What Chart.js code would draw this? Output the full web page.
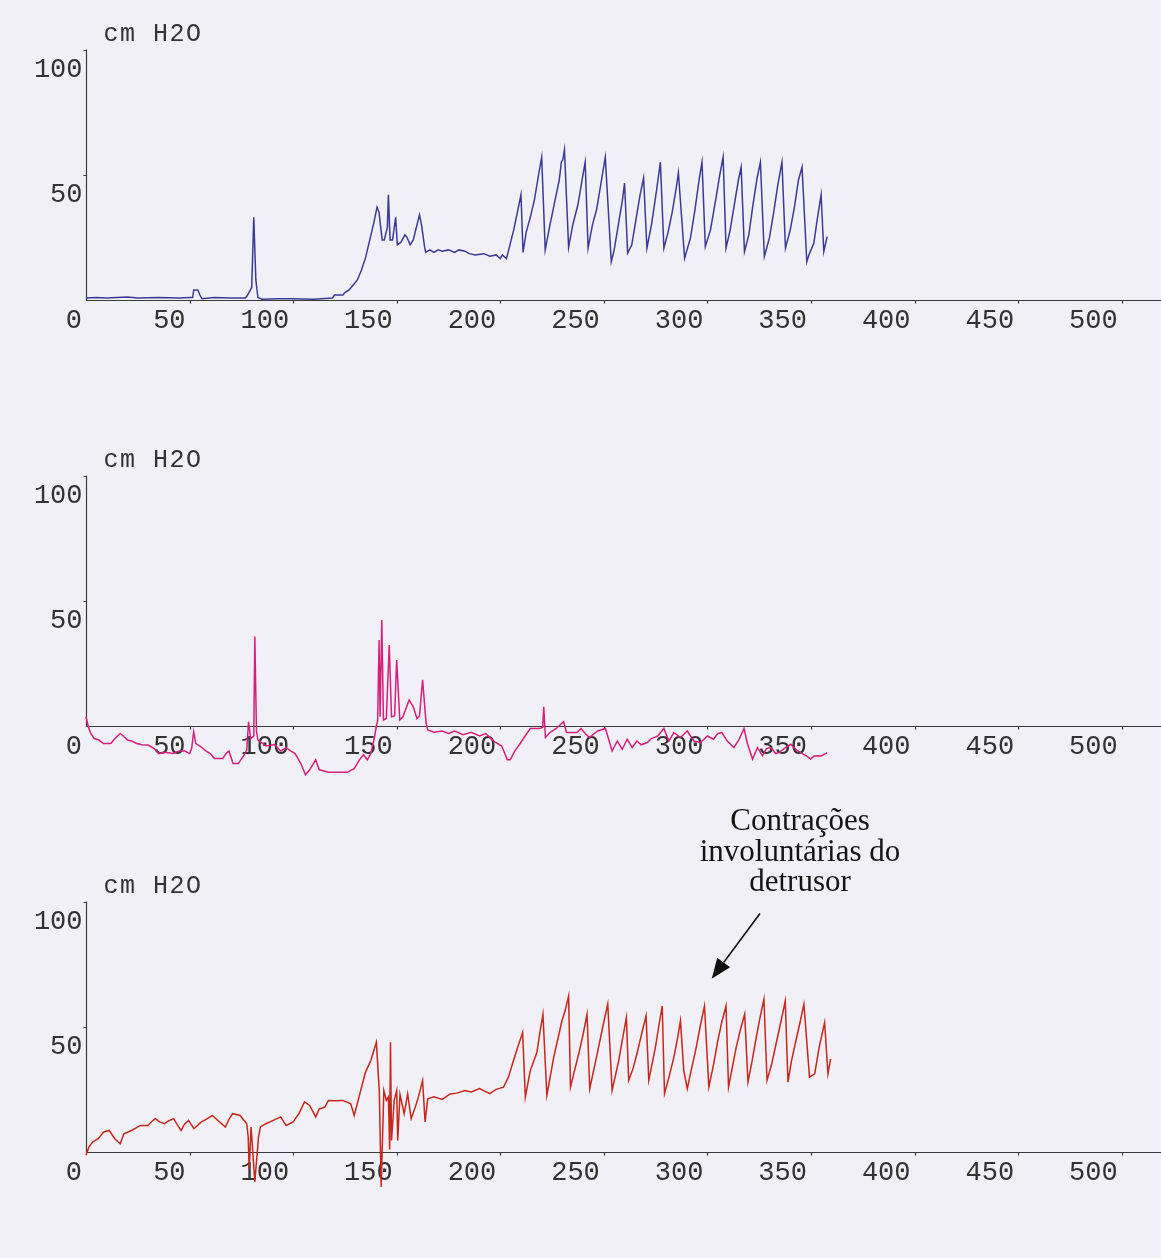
<!DOCTYPE html>
<html><head><meta charset="utf-8">
<script src="https://cdn.jsdelivr.net/npm/chart.js@4.4.1/dist/chart.umd.min.js"></script>
<style>
html,body{margin:0;padding:0;background:#f1f0f6;}
body{width:1161px;height:1258px;position:relative;overflow:hidden;}
canvas{position:absolute;left:0;}
#note{position:absolute;left:640px;width:320px;top:805px;text-align:center;font-family:"Liberation Serif","Times New Roman",serif;font-size:31px;line-height:30.5px;color:#141414;}
</style></head><body>
<canvas id="c1" width="1161" height="426" style="top:0"></canvas>
<canvas id="c2" width="1161" height="426" style="top:426px"></canvas>
<canvas id="c3" width="1161" height="426" style="top:852px"></canvas>
<div id="note">Contrações<br>involuntárias do<br>detrusor</div>
<script>
// ---- tick labels ----
const xTicks = [0, 50, 100, 150, 200, 250, 300, 350, 400, 450, 500];
const xTickLabels = ['0', '50', '100', '150', '200', '250', '300', '350', '400', '450', '500'];
const yTicks = [0, 50, 100];
const yTickLabels = ['0', '50', '100'];
const unitLabel = 'cm H2O';

// ---- panel 1 (blue) ----
const p1x = [0,5,10,15,20,25,35,45,50,51.5,52,54,55,56,62,70,77,78,80,81,82,83,85,92,100,110,119,120,124,125,127,129,131,133,135,137,139,140.5,141.5,142,143,144,145.5,146,146.8,148,149.5,150.3,152,154,155,156.5,158,161,162,163.5,164,166,168,170,172,175,178,180,183,185,188,192,195,198,200,201,203,
 206.5,208.5,210,211,212.5,214.5,216.5,218.5,220,221.7,224,226,228.5,229.5,230.2,231,233,235,237.5,239.5,241,242.4,244.5,246.5,248.5,250.7,253.6,255,257,259,260,261.5,263.5,265.5,267.5,269.2,270.8,273,275.5,277.3,279,281,283,285,286,289,291.8,294,296,297.4,299,301.5,304,306,307.6,309,311,313,315,316.3,317.9,320,322,324,325.6,327.5,330,332,334,336,337.7,340,342,344,345.7,348,349,351.4,353,354.9,356.2,357.8];
const p1y = [0.8,1,0.8,1,1.2,0.8,1,0.8,1,1,4,4,2,0.5,1,0.8,0.8,2,5,33,8,1,0.3,0.5,0.5,0.3,0.8,2,2,3,4,6,8,12,17,24,31,37,35,31,24,24,29,42,24,24,33,22,23,26,25,22,24,34,30,21,19,20,19,20,19.5,20,19,20,19.5,18.5,18,18.5,17.5,18,16.5,18,16.5,
 28,36,42,19,27,33,40,50,57,20,30,38,48,55,56,60,21,30,38,48,55,20.7,30,36,46,57,15.3,20,30,40,46.7,18.7,22,32,42,48.7,20.7,30,44,55,20.7,27,35,45,50.7,16.7,24.7,36,48,55,21.3,28,40,50,57,20.7,28,38,48,53,19.3,26,38,48.7,55,17.3,25,35,46,55,20.7,28,37,48,53,15.3,18,22.7,32,42,19.3,25.3];

// ---- panel 2 (magenta) ----
const p2x = [0,1,2.3,4,6,8.5,12,14,16.5,18,20,22,24.5,27,30,33,35,38,42,45,47.7,50,51,52,53,55,58,60,62,66,67.6,69,71,73.5,76,77.6,78.5,79.5,81,81.5,82.3,83,87,91,94,96.6,99,101,103.7,106,108,110.9,112.6,115,117,122,126,129.5,132,134,135.8,137.5,139,140.2,140.8,141.5,142,142.8,143.6,145,146.4,147.5,149,150,151.5,153,156,157,158,159.8,161,162.5,164.2,165,168,172,175,178,182,186,190,193,196.8,200.7,203.4,204.8,207,209.7,212,214.5,216,219,220.5,221,221.8,224,227,230.6,232,237,239,241,243,247,250.8,254,256.5,258.9,261.3,263.7,266,268,271,273,276,279,281.4,283.8,287,290.3,293.5,296.7,300,303,305,307,309.6,312.8,315.3,317.7,319.3,321.8,324.2,326.6,328.5,330.6,333,334.6,337,340.3,343,345,348,349.8,351.5,353,355,357.8];
const p2y = [3.7,0,-3,-5,-5.5,-7,-7,-5,-3,-4,-5.6,-6,-7,-7.5,-7.6,-9,-11,-10.5,-11,-10,-10,-11,-9,-2.3,-7,-8,-10,-11,-13,-13,-11,-10,-15,-15,-12,-9.6,1.7,-5,-4,35.7,-2,-5.6,-8,-7.4,-10,-8.6,-10,-11,-15,-19.5,-17.5,-13.5,-17.5,-18,-18.5,-18.5,-18.5,-17,-13.5,-11.5,-13.5,-11,-5.6,0,2,34.3,3.7,42.3,2.4,3,32.3,3.7,4,26.3,2.4,3.7,10.4,9,7.7,3,4,18.4,1,-1.6,-2.5,-2,-3,-2,-3.5,-2.5,-4,-3,-6,-8,-13.5,-13.5,-10,-6.9,-4,-1,-1,-1,-0.5,7.7,-4.6,-2.6,-1,1.7,-2.6,-2.6,-1,-3,-4.6,-2,-1,-10,-6,-9.3,-5.3,-8.6,-6,-7.5,-6.6,-5,-4,-1,-6,-2.6,-4.6,-2,-6,-6.6,-4,-5.3,-3,-2.6,-6,-8.6,-5.3,-1,-7,-13.2,-8.6,-11.9,-9,-8.6,-11,-10.6,-9,-7.3,-9.5,-10.6,-12,-13.2,-12,-11.9,-12,-10.6];

// ---- panel 3 (red) ----
const p3x = [0,1.4,3.2,5.9,8.5,11.2,13.9,16.5,18.3,21.9,24,26.3,29.9,31.5,33.5,35.5,37.9,40,42.3,44,45.9,47.5,49.5,52.1,55.7,58,61,63.7,67.3,69,70.8,74.4,77.6,78.3,78.8,79.7,81.5,83.3,84.2,86.8,90.4,94,96.6,100,102.8,105.5,108,110.9,112.6,115.3,117,120,124,127.8,129.5,132.2,134.9,137.5,140.2,141.1,141.6,142.5,143.8,145,146,146.6,147,147.5,148.8,150,150.5,151.6,153.6,155.3,157,159,160.5,162.5,163.7,165,168,172,175.8,179,183,186,190,195,198,201.6,
 204,206.4,208.5,210.8,212.1,214.5,217.7,219,220.6,222.5,225.8,229.8,231.5,233,233.9,236,237.9,240,241.9,243.2,246.8,249.5,251.9,254,257.2,259,260.9,262,264,266,268.5,270.4,271.7,274.9,276.5,278.2,279.3,281.5,283.8,285.5,287,288.6,290.3,292,294.3,296.5,298.6,300.7,303,305,307,309,310.2,313.9,316,318,319.6,321.5,323.6,325.5,327.3,328.8,331,333.3,335.5,337.6,338.9,340.5,342.9,344.8,346.6,349.3,351.8,354,356.6,358.2,359.5];
const p3y = [-1.3,2,4,5.3,8,8.6,5.3,3.3,7.3,8.6,9.5,10.6,10.6,12,13.3,12,11.3,12.5,13.3,11,8.6,11,12.6,9.3,12,13,14.6,12.6,10,13,15.3,14.6,11.3,6,-7,10,-12,6,10,11.3,12.6,14,10.6,12,15.3,20,18.6,14,17.2,17.9,20.6,20.5,20.6,19.2,14.6,23.2,31.8,36.5,43.8,31,24.5,-14,24.5,20.6,22,1,43.8,4.6,20.6,24.5,4.6,23,15.3,23.2,13.3,18,22,28.5,12,21.2,22,21,23.2,23.5,24.5,24,25.3,23.3,25,25.9,
 30,36.5,42,47.7,21.9,32.5,39.8,47,55,22.6,37.8,52.4,57,62.3,25.9,33,39.2,47,55,25.3,39.2,50,59,24.6,36.5,45,53.7,28.6,33,39.2,48,54.4,28.6,41.8,50,58.3,23.3,30,37.8,45,52.4,32.5,25.3,32,40.5,50,58.3,25.9,35,44.4,52,58.3,25.9,41.8,49,55,27.9,36,45.8,54,61,28.6,35,43.7,52,60.3,27.9,36,45,52,59,29.9,31.2,42,51.7,31.2,37.2];

// annotation arrow (data coordinates of panel 3)
const arrowTail = {x: 325.4, y: 95.2};
const arrowTip = {x: 302.1, y: 69.2};

const X_MIN = 0, X_MAX = 519, Y_MIN = -40, Y_MAX = 100;
const axisColor = '#3a3a3a';
const textColor = '#333333';

const axesPlugin = {
  id: 'paperAxes',
  beforeDatasetsDraw(chart) {
    const {ctx, chartArea} = chart;
    const xs = chart.scales.x, ys = chart.scales.y;
    const x0 = Math.round(xs.getPixelForValue(0)) + 0.5;
    const y0 = Math.round(ys.getPixelForValue(0)) + 0.5;
    const yTop = ys.getPixelForValue(Y_MAX);
    ctx.save();
    ctx.strokeStyle = axisColor;
    ctx.lineWidth = 1.2;
    ctx.beginPath();
    ctx.moveTo(x0, yTop);
    ctx.lineTo(x0, y0);
    ctx.lineTo(chartArea.right, y0);
    xTicks.forEach(v => { if (v === 0) return; const px = Math.round(xs.getPixelForValue(v)) + 0.5; ctx.moveTo(px, y0); ctx.lineTo(px, y0 + 3); });
    yTicks.forEach(v => { if (v === 0) return; const py = Math.round(ys.getPixelForValue(v)) + 0.5; ctx.moveTo(x0, py); ctx.lineTo(x0 - 3, py); });
    ctx.stroke();
    ctx.fillStyle = textColor;
    ctx.font = '27px "Liberation Mono"';
    ctx.textAlign = 'right';
    ctx.textBaseline = 'alphabetic';
    xTicks.forEach((v, i) => ctx.fillText(xTickLabels[i], xs.getPixelForValue(v) - 4, y0 + 27));
    yTicks.forEach((v, i) => { if (v === 0) return; ctx.fillText(yTickLabels[i], x0 - 4, ys.getPixelForValue(v) + 27); });
    ctx.font = '25px "Liberation Mono"';
    try { ctx.letterSpacing = '1.5px'; } catch (e) {}
    ctx.textAlign = 'left';
    ctx.fillText(unitLabel, x0 + 17, 41);
    ctx.restore();
  }
};

const arrowPlugin = {
  id: 'arrowNote',
  afterDatasetsDraw(chart) {
    const {ctx} = chart;
    const xs = chart.scales.x, ys = chart.scales.y;
    const tx = xs.getPixelForValue(arrowTail.x), ty = ys.getPixelForValue(arrowTail.y);
    const hx = xs.getPixelForValue(arrowTip.x), hy = ys.getPixelForValue(arrowTip.y);
    const ang = Math.atan2(hy - ty, hx - tx);
    const L = 20, W = 8;
    const bx = hx - L * Math.cos(ang), by = hy - L * Math.sin(ang);
    ctx.save();
    ctx.strokeStyle = '#111'; ctx.fillStyle = '#111'; ctx.lineWidth = 1.6;
    ctx.beginPath(); ctx.moveTo(tx, ty); ctx.lineTo(bx, by); ctx.stroke();
    ctx.beginPath();
    ctx.moveTo(hx, hy);
    ctx.lineTo(bx + W * Math.sin(ang), by - W * Math.cos(ang));
    ctx.lineTo(bx - W * Math.sin(ang), by + W * Math.cos(ang));
    ctx.closePath(); ctx.fill();
    ctx.restore();
  }
};

function makeChart(id, xs, ys, color, extra) {
  const data = xs.map((x, i) => ({x: x, y: ys[i]}));
  return new Chart(document.getElementById(id), {
    type: 'line',
    data: {datasets: [{data: data, borderColor: color, borderWidth: 1.5, pointRadius: 0, tension: 0, fill: false, clip: false}]},
    options: {
      responsive: false, animation: false, devicePixelRatio: 1, events: [],
      layout: {padding: {left: 86, right: 0, top: 49.5, bottom: 25.8}},
      plugins: {legend: {display: false}, tooltip: {enabled: false}},
      scales: {
        x: {type: 'linear', min: X_MIN, max: X_MAX, display: false},
        y: {type: 'linear', min: Y_MIN, max: Y_MAX, display: false}
      }
    },
    plugins: [axesPlugin].concat(extra || [])
  });
}

makeChart('c1', p1x, p1y, '#3d3a95');
makeChart('c2', p2x, p2y, '#d4207c');
makeChart('c3', p3x, p3y, '#c6261b', [arrowPlugin]);
</script>
</body></html>
